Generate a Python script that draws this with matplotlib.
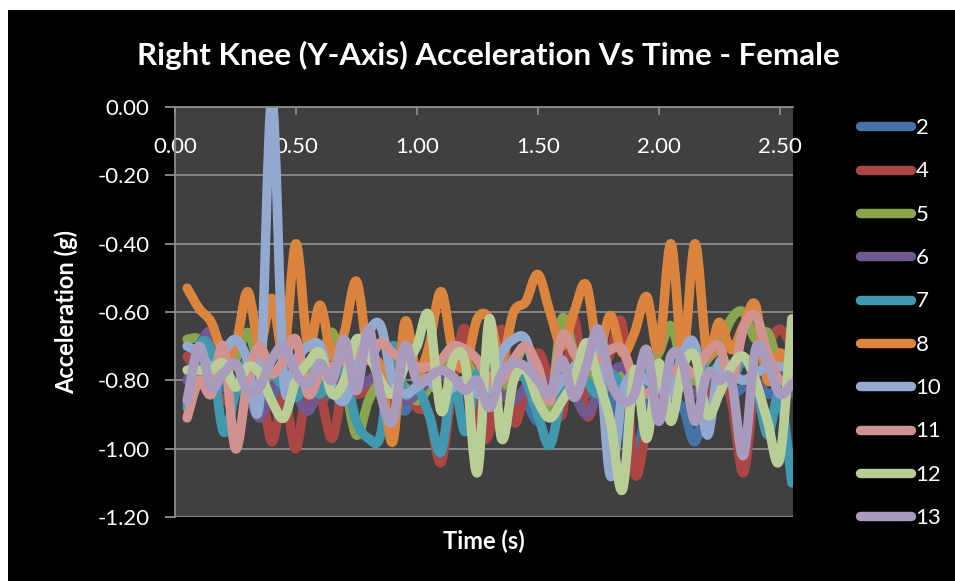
import numpy as np
import matplotlib
matplotlib.use("Agg")
import matplotlib.pyplot as plt
from matplotlib.path import Path
from matplotlib.patches import PathPatch, Rectangle
from matplotlib.lines import Line2D

plt.rcParams['font.family'] = ['Lato', 'DejaVu Sans']

# Sample times (s)
time_s = [round(0.05 * i, 2) for i in range(1, 52)]

# Acceleration (g) per subject
subj_2 = [-0.80, -0.76, -0.78, -0.82, -0.80, -0.78, -0.82, -0.86, -0.80, -0.78,
          -0.82, -0.86, -0.82, -0.78, -0.80, -0.84, -0.80, -0.84, -0.89, -0.82,
          -0.80, -0.84, -0.82, -0.80, -0.84, -0.82, -0.80, -0.84, -0.86, -0.92,
          -0.86, -0.80, -0.82, -0.84, -0.80, -0.86, -0.92, -1.04, -0.88, -0.82,
          -0.86, -0.88, -0.98, -0.84, -0.80, -0.84, -0.82, -0.80, -0.84, -0.82,
          -0.80]
subj_4 = [-0.73, -0.78, -0.80, -0.86, -0.80, -0.84, -0.80, -0.98, -0.84, -1.00,
          -0.80, -0.84, -0.97, -0.80, -0.84, -0.82, -0.78, -0.86, -0.82, -0.88,
          -0.90, -1.04, -0.80, -0.65, -0.92, -0.95, -0.65, -0.92, -0.82, -0.72,
          -0.80, -0.90, -0.62, -0.90, -0.82, -0.72, -0.64, -1.07, -0.94, -0.86,
          -0.78, -0.82, -0.80, -0.84, -0.78, -0.86, -1.07, -0.80, -0.70, -0.65,
          -0.70]
subj_5 = [-0.68, -0.68, -0.74, -0.78, -0.74, -0.66, -0.76, -0.80, -0.78, -0.82,
          -0.76, -0.74, -0.66, -0.80, -0.96, -0.86, -0.80, -0.78, -0.82, -0.86,
          -0.82, -0.76, -0.72, -0.74, -0.80, -0.84, -0.82, -0.76, -0.70, -0.78,
          -0.88, -0.62, -0.72, -0.78, -0.84, -0.80, -0.78, -0.80, -0.76, -0.72,
          -0.64, -0.76, -0.80, -0.74, -0.70, -0.62, -0.60, -0.68, -0.66, -0.76,
          -0.78]
subj_6 = [-0.80, -0.70, -0.66, -0.78, -0.80, -0.84, -0.91, -0.82, -0.80, -0.84,
          -0.89, -0.82, -0.80, -0.78, -0.82, -0.80, -0.78, -0.82, -0.86, -0.84,
          -0.80, -0.78, -0.82, -0.84, -0.82, -0.80, -0.84, -0.86, -0.82, -0.78,
          -0.82, -0.80, -0.84, -0.90, -0.84, -0.78, -0.76, -0.80, -0.82, -0.78,
          -0.76, -0.80, -0.84, -0.80, -0.76, -0.78, -0.80, -0.82, -0.80, -0.78,
          -0.84]
subj_7 = [-0.88, -0.70, -0.72, -0.95, -0.84, -0.74, -0.78, -0.78, -0.82, -0.85,
          -0.80, -0.84, -0.76, -0.78, -0.92, -0.97, -0.96, -0.70, -0.84, -0.82,
          -0.90, -1.01, -0.80, -0.95, -0.78, -0.80, -0.76, -0.74, -0.80, -0.90,
          -0.99, -0.84, -0.76, -0.80, -0.84, -0.78, -0.82, -0.86, -0.78, -0.80,
          -0.84, -0.72, -0.70, -0.78, -0.76, -0.80, -0.74, -0.80, -0.96, -0.84,
          -1.10]
subj_8 = [-0.53, -0.59, -0.63, -0.72, -0.70, -0.54, -0.70, -0.56, -0.72, -0.40,
          -0.70, -0.58, -0.73, -0.66, -0.51, -0.73, -0.76, -0.98, -0.63, -0.78,
          -0.70, -0.54, -0.72, -0.76, -0.62, -0.62, -0.74, -0.60, -0.57, -0.49,
          -0.60, -0.70, -0.60, -0.52, -0.71, -0.61, -0.72, -0.66, -0.555, -0.71,
          -0.40, -0.72, -0.40, -0.72, -0.63, -0.71, -0.64, -0.58, -0.80, -0.72,
          -0.77]
subj_10 = [-0.70, -0.72, -0.76, -0.72, -0.68, -0.74, -0.86, 0.02, -0.80, -0.74,
           -0.70, -0.70, -0.82, -0.86, -0.76, -0.66, -0.64, -0.80, -0.84, -0.82,
           -0.80, -0.84, -0.82, -0.80, -0.84, -0.82, -0.72, -0.68, -0.68, -0.80,
           -0.84, -0.80, -0.76, -0.72, -0.70, -1.08, -0.84, -0.78, -0.80, -0.82,
           -0.84, -0.72, -0.70, -0.96, -0.75, -0.78, -0.80, -0.78, -0.76, -0.76,
           -0.76]
subj_11 = [-0.91, -0.80, -0.84, -0.70, -1.00, -0.80, -0.70, -0.78, -0.74, -0.68,
           -0.84, -0.78, -0.76, -0.74, -0.72, -0.74, -0.69, -0.72, -0.74, -0.76,
           -0.76, -0.74, -0.70, -0.71, -0.74, -0.80, -0.80, -0.74, -0.70, -0.76,
           -0.86, -0.67, -0.72, -0.76, -0.74, -0.71, -0.71, -0.80, -0.84, -0.80,
           -0.78, -0.76, -0.78, -0.72, -0.70, -0.80, -0.65, -0.61, -0.72, -0.80,
           -0.78]
subj_12 = [-0.77, -0.77, -0.77, -0.75, -0.82, -0.76, -0.78, -0.86, -0.91, -0.80,
           -0.75, -0.72, -0.84, -0.80, -0.68, -0.72, -0.80, -0.84, -0.76, -0.70,
           -0.61, -0.89, -0.74, -0.75, -1.07, -0.62, -0.97, -0.80, -0.77, -0.86,
           -0.91, -0.86, -0.80, -0.69, -0.80, -0.92, -1.12, -0.77, -0.97, -0.75,
           -0.92, -0.76, -0.73, -0.90, -0.84, -0.76, -0.73, -0.80, -0.92, -1.03,
           -0.62]
subj_13 = [-0.86, -0.70, -0.82, -0.78, -0.75, -0.83, -0.82, -0.74, -0.70, -0.78,
           -0.81, -0.75, -0.80, -0.68, -0.83, -0.65, -0.84, -0.92, -0.70, -0.80,
           -0.79, -0.77, -0.79, -0.83, -0.80, -0.88, -0.78, -0.75, -0.76, -0.80,
           -0.84, -0.74, -0.85, -0.76, -0.65, -0.80, -0.86, -0.84, -0.71, -0.92,
           -0.73, -0.75, -0.92, -0.78, -0.80, -0.80, -1.02, -0.71, -0.75, -0.84,
           -0.81]

series_labels = ['2', '4', '5', '6', '7', '8', '10', '11', '12', '13']
series_values = [subj_2, subj_4, subj_5, subj_6, subj_7, subj_8,
                 subj_10, subj_11, subj_12, subj_13]
series_colors = ['#4572A7', '#AA4643', '#89A54E', '#71588F', '#4198AF',
                 '#DB843D', '#93A9CF', '#D19392', '#B9CD96', '#A99BBD']

y_ticks = [0.0, -0.2, -0.4, -0.6, -0.8, -1.0, -1.2]
x_ticks = [0.0, 0.5, 1.0, 1.5, 2.0, 2.5]


def smooth_path(x, y):
    """Catmull-Rom style cubic Bezier path through the points (smoothed line)."""
    pts = np.column_stack([x, y]).astype(float)
    n = len(pts)
    verts = [pts[0]]
    codes = [Path.MOVETO]
    for i in range(n - 1):
        p0 = pts[i - 1] if i > 0 else pts[i]
        p1 = pts[i]
        p2 = pts[i + 1]
        p3 = pts[i + 2] if i + 2 < n else pts[i + 1]
        c1 = p1 + (p2 - p0) / 6.0
        c2 = p2 - (p3 - p1) / 6.0
        verts.extend([c1, c2, p2])
        codes.extend([Path.CURVE4] * 3)
    return Path(verts, codes)


W, H = 955, 581
fig = plt.figure(figsize=(W / 100, H / 100), dpi=100, facecolor='white')
fig.add_artist(Rectangle((8 / W, 0), 1 - 8 / W, (H - 10) / H,
                         transform=fig.transFigure, facecolor='black',
                         edgecolor='none', zorder=0))

ax = fig.add_axes([175 / W, (H - 517) / H, (793 - 175) / W, (517 - 107) / H])
ax.set_facecolor('#404040')
ax.set_xlim(0, 2.555)
ax.set_ylim(-1.2, 0)

grid_c = '#8C8C8C'
for yv in y_ticks:
    ax.axhline(yv, color=grid_c, lw=1.3, zorder=1)

lw = 6.8
handles = []
for lab, vals, col in zip(series_labels, series_values, series_colors):
    patch = PathPatch(smooth_path(time_s, vals), facecolor='none', edgecolor=col,
                      lw=lw, capstyle='round', joinstyle='round', zorder=3)
    ax.add_patch(patch)
    handles.append(Line2D([], [], color=col, lw=lw, solid_capstyle='round'))

for s in ['right', 'bottom']:
    ax.spines[s].set_visible(False)
for s in ['left', 'top']:
    ax.spines[s].set_color(grid_c)
    ax.spines[s].set_linewidth(1.3)
    ax.spines[s].set_zorder(4)

ax.set_yticks(y_ticks)
ax.set_yticklabels([f'{v:.2f}' for v in y_ticks])
ax.tick_params(axis='y', colors=grid_c, labelcolor='white', labelsize=16,
               length=7.2, width=1.3, direction='out', pad=11)

ax.set_xticks(x_ticks)
ax.set_xticklabels([f'{v:.2f}' for v in x_ticks])
ax.xaxis.set_ticks_position('top')
ax.tick_params(axis='x', colors=grid_c, labelcolor='white', labelsize=16,
               length=6, width=1.3, direction='in', pad=-36,
               labeltop=True, labelbottom=False)

ax.set_xlabel('Time (s)', color='white', fontsize=17, fontweight='bold', labelpad=9)
ax.xaxis.set_label_position('bottom')
ax.set_ylabel('Acceleration (g)', color='white', fontsize=17, fontweight='bold',
              labelpad=14)

fig.text(488 / W, 1 - 55 / H, 'Right Knee (Y-Axis) Acceleration Vs Time - Female',
         color='white', fontsize=22.5, fontweight='bold', ha='center', va='center')

leg = fig.legend(handles, series_labels, loc='upper left',
                 bbox_to_anchor=(849 / W, 1 - 107 / H), frameon=False,
                 fontsize=16, labelcolor='white', handlelength=2.3,
                 handletextpad=0.2, labelspacing=1.05, borderpad=0)

fig.savefig('out.png', dpi=100, facecolor=fig.get_facecolor())
